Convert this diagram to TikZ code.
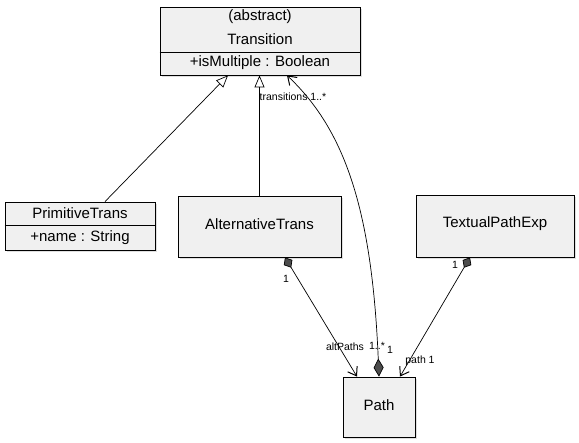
\documentclass[tikz,border=0pt]{standalone}
\usepackage{fontspec}
\setmainfont{Liberation Sans}
\usetikzlibrary{arrows.meta,shadows}
\begin{document}
\begin{tikzpicture}[x=1pt,y=-1pt,
  umlbox/.style={draw=black, line width=0.8pt, fill=black!6, rectangle, inner sep=0pt,
    drop shadow={shadow xshift=2pt, shadow yshift=-2pt, opacity=0.25}},
  boxtext/.style={font=\fontsize{15}{17}\selectfont, inner sep=0pt},
  lbl/.style={font=\fontsize{10.5}{12}\selectfont, inner sep=0pt},
  gen/.style={draw, line width=0.7pt, -{Triangle[open, length=12pt, width=10pt]}},
  comp/.style={draw, line width=0.7pt, {Diamond[length=18pt, width=10pt, fill=black!70]}-{Straight Barb[length=8pt, width=11pt, line width=1pt]}},
  owner/.style={draw, line width=0.7pt, {Diamond[length=12pt, width=10pt, fill=black!70]}-{Straight Barb[length=8pt, width=11pt, line width=1pt]}}
]
\useasboundingbox (0,0) rectangle (579,443);
% Transition
\node[umlbox, minimum width=200pt, minimum height=68pt] (trans) at (260,41) {};
\draw[line width=0.7pt] (trans.west |- 0,52) -- (trans.east |- 0,52);
\node[boxtext] (tabs) at (260,17) {(abstract)};
\node[boxtext] (tname) at (260,39) {Transition};
\node[boxtext] (tattr) at (260,63) {+isMultiple : Boolean};
% PrimitiveTrans
\node[umlbox, minimum width=150pt, minimum height=48pt] (prim) at (80,226) {};
\draw[line width=0.7pt] (prim.west |- 0,225) -- (prim.east |- 0,225);
\node[boxtext] (pname) at (80,213) {PrimitiveTrans};
\node[boxtext] (pattr) at (80,238) {+name : String};
% AlternativeTrans
\node[umlbox, minimum width=163pt, minimum height=61pt] (alt) at (259.5,226.5) {};
\node[boxtext] (aname) at (259.5,224) {AlternativeTrans};
% TextualPathExp
\node[umlbox, minimum width=158pt, minimum height=62pt] (text) at (495,226) {};
\node[boxtext] (xname) at (495,224) {TextualPathExp};
% Path
\node[umlbox, minimum width=72pt, minimum height=60pt] (path) at (379,407) {};
\node[boxtext] (pathname) at (379,405) {Path};
% Generalizations
\draw[gen] ([xshift=25pt]prim.north) -- ([xshift=-32pt]trans.south);
\draw[gen] (alt.north) -- (alt.north |- trans.south);
% transitions association
\draw[comp] (path.north) .. controls (372,210) and (345,130) .. ([xshift=27pt]trans.south);
% altPaths
\draw[owner] ([xshift=25.5pt]alt.south) -- ([xshift=-22pt]path.north);
% path
\draw[owner] ([xshift=-25pt]text.south) -- ([xshift=21pt]path.north);
% labels
\node[lbl] (ltrans) at (293,97) {transitions 1..*};
\node[lbl] (laltone) at (286,279) {1};
\node[lbl] (lalt) at (345,347) {altPaths};
\node[lbl] (laltmul) at (377,346) {1..*};
\node[lbl] (lcompone) at (390,350) {1};
\node[lbl] (ltextone) at (455,265) {1};
\node[lbl] (lpath) at (420,361) {path 1};
\end{tikzpicture}
\end{document}
